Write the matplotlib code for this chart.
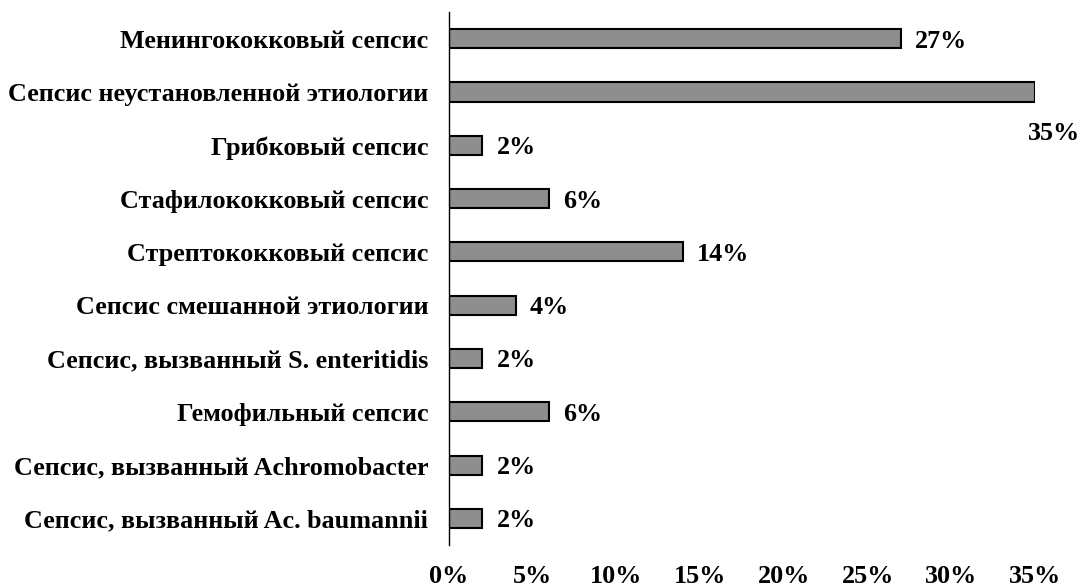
import matplotlib
matplotlib.use('Agg')
import matplotlib.pyplot as plt
from matplotlib.ticker import FuncFormatter

plt.rcParams['font.family'] = ['Liberation Serif', 'DejaVu Serif']
plt.rcParams['font.weight'] = 'bold'

# категории сверху вниз
categories = [
    'Менингококковый сепсис',
    'Сепсис неустановленной этиологии',
    'Грибковый сепсис',
    'Стафилококковый сепсис',
    'Стрептококковый сепсис',
    'Сепсис смешанной этиологии',
    'Сепсис, вызванный S. enteritidis',
    'Гемофильный сепсис',
    'Сепсис, вызванный Achromobacter',
    'Сепсис, вызванный Ac. baumannii',
]
values = [27, 35, 2, 6, 14, 4, 2, 6, 2, 2]
x_ticks = [0, 5, 10, 15, 20, 25, 30, 35]

FS = 18.8

fig = plt.figure(figsize=(10.83, 5.88), dpi=100)
ax = fig.add_axes([0.4146, 0.0730, 0.5411, 0.9066])

y = list(range(len(categories)))
ax.barh(y, values, height=0.36, color='#8e8e8e', edgecolor='black', linewidth=1.5)

ax.set_yticks(y)
ax.set_yticklabels(categories, fontsize=FS, fontweight='bold')
ax.set_ylim(len(categories) - 0.5, -0.5)
ax.set_xlim(0, 35)
ax.set_xticks(x_ticks)
ax.xaxis.set_major_formatter(FuncFormatter(lambda v, p: '%d%%' % v))
for lbl in ax.get_xticklabels():
    lbl.set_fontsize(FS)
    lbl.set_fontweight('bold')

ax.tick_params(axis='both', length=0)
ax.tick_params(axis='x', pad=14)
ax.tick_params(axis='y', pad=15)

ax.spines['top'].set_visible(False)
ax.spines['right'].set_visible(False)
ax.spines['bottom'].set_visible(False)
ax.spines['left'].set_linewidth(1.0)

# подписи значений
for i, v in enumerate(values):
    if v == max(values):
        ax.annotate('%d%%' % v, xy=(v, i), xytext=(-5, -28), textcoords='offset points',
                    ha='left', va='center_baseline', fontsize=FS, fontweight='bold',
                    annotation_clip=False)
    else:
        ax.annotate('%d%%' % v, xy=(v, i), xytext=(10, 0), textcoords='offset points',
                    ha='left', va='center_baseline', fontsize=FS, fontweight='bold')

fig.savefig('out.png', dpi=100)
